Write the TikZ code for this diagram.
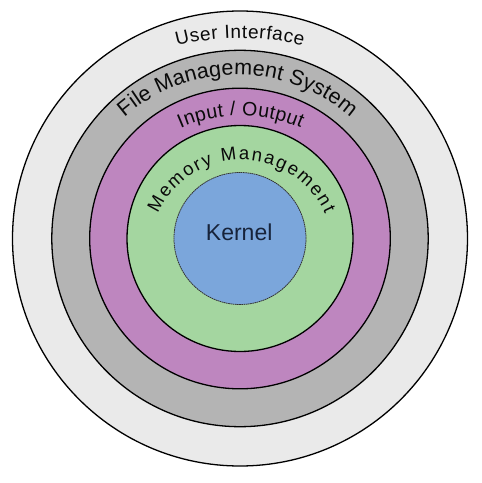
\documentclass[tikz,border=0pt]{standalone}
\usepackage{fontspec}
\setmainfont{Liberation Sans}
\usetikzlibrary{decorations.text}
\definecolor{uicol}{HTML}{EAEAEA}
\definecolor{fmscol}{HTML}{B4B4B4}
\definecolor{iocol}{HTML}{BE86BF}
\definecolor{memcol}{HTML}{A4D6A0}
\definecolor{kercol}{HTML}{7BA6DB}
\definecolor{kertext}{HTML}{17233A}
\definecolor{labtext}{HTML}{0A0A0A}
\begin{document}
\begin{tikzpicture}[x=1pt,y=1pt,
  ring/.style={draw=black, line width=1.3pt},
  kernelring/.style={draw=black!80, line width=0.8pt, dash pattern=on 1.6pt off 0.6pt},
  curvetext/.style={decorate, decoration={text along path, text align=fit to path, text color=labtext, #1}}]
\useasboundingbox (-240,-244.5) rectangle (242,238.5);
\fill[white] (-240,-244.5) rectangle (242,238.5);
\draw[ring, fill=uicol] (0,0) circle[radius=227.5];
\draw[ring, fill=fmscol] (0,0) circle[radius=188.2];
\draw[ring, fill=iocol] (0,0) circle[radius=150.3];
\draw[ring, fill=memcol] (0,0) circle[radius=113];
\draw[kernelring, fill=kercol] (0,0) circle[radius=66];
\node[anchor=base, text=kertext, font=\fontsize{23}{23}\selectfont, inner sep=0pt] (kernel) at (-0.8,-1.5) {Kernel};
% curved labels
\path[curvetext={text={|\fontsize{19}{19}\selectfont|User Interface}}]
  (0,-49.5) ++(104.6:250) arc[start angle=104.6, end angle=75.4, radius=250];
\path[curvetext={text={|\fontsize{21.5}{21.5}\selectfont|File Management System}}]
  (-2.5,-9.1) ++(130.9:172.6) arc[start angle=130.9, end angle=49.1, radius=172.6];
\path[curvetext={text={|\fontsize{19.5}{19.5}\selectfont|Input / Output}}]
  (0.8,-27) ++(113.6:150) arc[start angle=113.6, end angle=66.4, radius=150];
\path[curvetext={text={|\fontsize{18.5}{18.5}\selectfont|Memory Management}}]
  (1.5,-13.1) ++(155.8:91.6) arc[start angle=155.8, end angle=24.2, radius=91.6];
\end{tikzpicture}
\end{document}
